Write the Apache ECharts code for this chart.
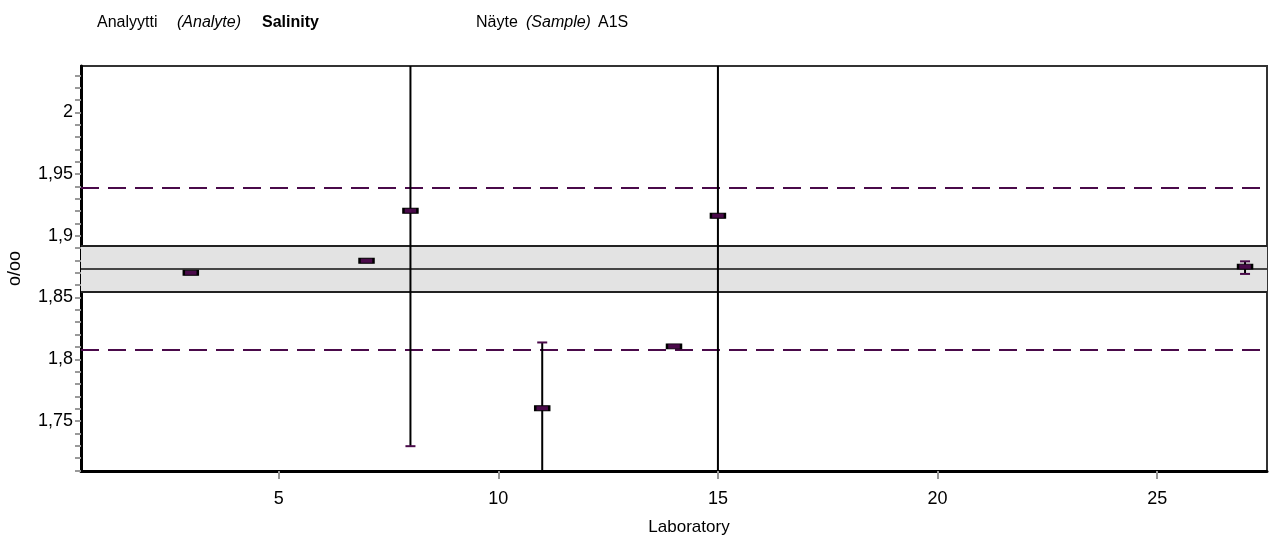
<!DOCTYPE html>
<html>
<head>
<meta charset="utf-8">
<script src="https://cdn.jsdelivr.net/npm/echarts@6/dist/echarts.min.js"></script>
<style>
html,body{margin:0;padding:0;background:#fff;}
#chart{width:1273px;height:541px;}
</style>
</head>
<body>
<div id="chart"></div>
<script>
// ---- data ----
const labs = [3, 7, 8, 11, 14, 15, 27];
const results = [1.870, 1.8798, 1.9203, 1.7603, 1.8104, 1.9162, 1.8750];
const errLow  = [null, null, 1.7296, 1.7070, null, 1.4960, 1.8691];
const errHigh = [null, null, 2.1110, 1.8136, null, 2.3360, 1.8793];
const assignedValue = 1.8735;
const bandLow = 1.8548, bandHigh = 1.8922;
const limitLow = 1.8079, limitHigh = 1.9391;
const yLabelTicks = [1.75, 1.8, 1.85, 1.9, 1.95, 2];
const xLabelTicks = [5, 10, 15, 20, 25];
const yMinorTicks = [];
for (let i = 0; i <= 32; i++) yMinorTicks.push(Math.round((1.71 + i * 0.01) * 1000) / 1000);

const FONT = 'Liberation Sans, Arial, sans-serif';
const PURPLE = '#4a0a4a';

const chart = echarts.init(document.getElementById('chart'), null, {renderer: 'canvas'});

const errData = labs.map((l, i) => [l, results[i], errLow[i], errHigh[i]]).filter(d => d[2] !== null);

const option = {
  animation: false,
  backgroundColor: '#fff',
  grid: {left: 81, right: 6, top: 66, bottom: 70, containLabel: false, outerBoundsMode: 'none',
    show: true, borderColor: '#333', borderWidth: 2, backgroundColor: 'transparent'},
  graphic: [
    {type: 'text', left: 97, top: 15, style: {text: 'Analyytti', font: '16px ' + FONT, fill: '#000'}},
    {type: 'text', left: 177, top: 15, style: {text: '(Analyte)', font: 'italic 16px ' + FONT, fill: '#000'}},
    {type: 'text', left: 262, top: 15, style: {text: 'Salinity', font: 'bold 16px ' + FONT, fill: '#000'}},
    {type: 'text', left: 476, top: 15, style: {text: 'Näyte', font: '16px ' + FONT, fill: '#000'}},
    {type: 'text', left: 526, top: 15, style: {text: '(Sample)', font: 'italic 16px ' + FONT, fill: '#000'}},
    {type: 'text', left: 598, top: 15, style: {text: 'A1S', font: '16px ' + FONT, fill: '#000'}}
  ],
  xAxis: {
    type: 'value', min: 0.5, max: 27.5,
    name: 'Laboratory', nameLocation: 'middle', nameGap: 48,
    nameTextStyle: {fontFamily: FONT, fontSize: 17, color: '#000', padding: [0, 0, 0, 30]},
    axisLine: {show: true, lineStyle: {color: '#000', width: 3}},
    axisTick: {show: true, length: 8, lineStyle: {color: '#999', width: 2}, customValues: xLabelTicks},
    axisLabel: {fontFamily: FONT, fontSize: 18, color: '#000', margin: 19, customValues: xLabelTicks},
    splitLine: {show: false}
  },
  yAxis: {
    type: 'value', min: 1.7095, max: 2.0375,
    name: 'o/oo', nameLocation: 'middle', nameRotate: 90, nameGap: 57,
    nameTextStyle: {fontFamily: FONT, fontSize: 18, color: '#000'},
    axisLine: {show: true, lineStyle: {color: '#000', width: 3}},
    axisTick: {show: true, length: 6, lineStyle: {color: '#999', width: 2}, customValues: yMinorTicks},
    axisLabel: {fontFamily: FONT, fontSize: 18, color: '#000', margin: 8, customValues: yLabelTicks,
      formatter: v => String(Math.round(v * 100) / 100).replace('.', ',')},
    splitLine: {show: false}
  },
  series: [
    {
      type: 'line', data: [], silent: true, z: 1,
      markArea: {silent: true, itemStyle: {color: '#e3e3e3'}, data: [[{yAxis: bandLow}, {yAxis: bandHigh}]]},
      markLine: {
        silent: true, symbol: 'none', label: {show: false}, precision: 6,
        data: [
          {yAxis: bandLow, lineStyle: {color: '#222', width: 2, type: 'solid'}},
          {yAxis: bandHigh, lineStyle: {color: '#222', width: 2, type: 'solid'}},
          {yAxis: assignedValue, lineStyle: {color: '#111', width: 1.5, type: 'solid'}},
          {yAxis: limitLow, lineStyle: {color: PURPLE, width: 2, type: [18, 9]}},
          {yAxis: limitHigh, lineStyle: {color: PURPLE, width: 2, type: [18, 9]}}
        ]
      }
    },
    {
      type: 'custom', z: 5, clip: true,
      data: errData,
      renderItem: function (params, api) {
        const x = api.value(0);
        const lo = api.coord([x, api.value(2)]);
        const hi = api.coord([x, api.value(3)]);
        const capW = 5;
        return {
          type: 'group',
          children: [
            {type: 'line', shape: {x1: lo[0], y1: lo[1], x2: hi[0], y2: hi[1]}, style: {stroke: '#000', lineWidth: 2}},
            {type: 'line', shape: {x1: lo[0] - capW, y1: lo[1], x2: lo[0] + capW, y2: lo[1]}, style: {stroke: PURPLE, lineWidth: 2}},
            {type: 'line', shape: {x1: hi[0] - capW, y1: hi[1], x2: hi[0] + capW, y2: hi[1]}, style: {stroke: PURPLE, lineWidth: 2}}
          ]
        };
      }
    },
    {
      type: 'scatter', z: 6,
      data: labs.map((l, i) => [l, results[i]]),
      symbol: 'rect', symbolSize: [14, 5],
      itemStyle: {color: PURPLE, borderColor: '#000', borderWidth: 1.5, opacity: 1}
    }
  ]
};
chart.setOption(option);
</script>
</body>
</html>
